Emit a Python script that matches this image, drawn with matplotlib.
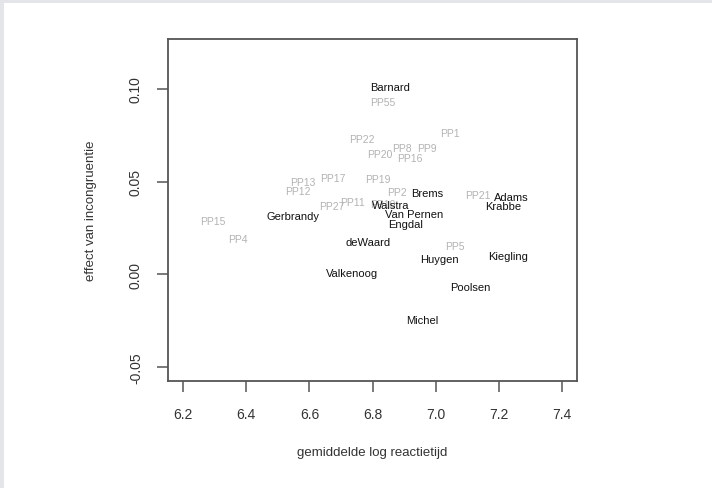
import matplotlib
matplotlib.use("Agg")
import matplotlib.pyplot as plt
from matplotlib.patches import Rectangle

plt.rcParams["font.family"] = ["Liberation Sans", "DejaVu Sans"]

# named participants (black) and anonymous PP codes (grey)
names = ["Barnard", "Brems", "Adams", "Krabbe", "Walstra", "Van Pernen",
         "Engdal", "deWaard", "Gerbrandy", "Valkenoog", "Huygen",
         "Kiegling", "Poolsen", "Michel"]
names_rt = [6.855, 6.972, 7.238, 7.214, 6.858, 6.930,
            6.903, 6.785, 6.548, 6.735, 7.013,
            7.228, 7.108, 6.956]
names_eff = [0.101, 0.044, 0.0415, 0.037, 0.0375, 0.0325,
             0.027, 0.0174, 0.0315, 0.0005, 0.008,
             0.0098, -0.007, -0.0245]

pp = ["PP55", "PP22", "PP1", "PP20", "PP8", "PP9", "PP16", "PP17", "PP19",
      "PP13", "PP12", "PP2", "PP27", "PP11", "PP10", "PP15", "PP4", "PP5",
      "PP21"]
pp_rt = [6.833, 6.766, 7.045, 6.823, 6.893, 6.972, 6.918, 6.675, 6.817,
         6.580, 6.564, 6.877, 6.672, 6.735, 6.833, 6.295, 6.374, 7.061,
         7.133]
pp_eff = [0.093, 0.0728, 0.076, 0.0647, 0.068, 0.068, 0.0625, 0.052, 0.0516,
          0.050, 0.045, 0.0446, 0.037, 0.039, 0.038, 0.029, 0.019, 0.0152,
          0.043]

xticks = [6.2, 6.4, 6.6, 6.8, 7.0, 7.2, 7.4]
yticks = [-0.05, 0.00, 0.05, 0.10]

fig = plt.figure(figsize=(7.12, 4.89), dpi=100, facecolor="#e4e5e8")
fig.add_artist(Rectangle((4 / 712, 0), 1, 1 - 4 / 489, transform=fig.transFigure,
                         facecolor="white", edgecolor="none", zorder=-1))
ax = fig.add_axes([168 / 712, 107 / 489, 409 / 712, 342 / 489])
ax.set_facecolor("white")

for lab, x, y in zip(pp, pp_rt, pp_eff):
    ax.text(x, y, lab, color="#b3b3b3", fontsize=7.5, ha="center", va="center")
for lab, x, y in zip(names, names_rt, names_eff):
    ax.text(x, y, lab, color="#111111", fontsize=8, ha="center", va="center")

ax.set_xlim(6.152, 7.447)
ax.set_ylim(-0.0576, 0.127)
ax.set_xticks(xticks)
ax.set_xticklabels([f"{v:.1f}" for v in xticks])
ax.set_yticks(yticks)
ax.set_yticklabels([f"{v:.2f}" for v in yticks], rotation=90, va="center")
for s in ax.spines.values():
    s.set_color("#555555")
    s.set_linewidth(1.3)
ax.tick_params(length=8, width=1.1, color="#555555", labelsize=10,
               labelcolor="#333333")
ax.tick_params(axis="x", pad=11)
ax.tick_params(axis="y", pad=10)
ax.set_xlabel("gemiddelde log reactietijd", fontsize=9.5, color="#333333",
              labelpad=18)
ax.set_ylabel("effect van incongruentie", fontsize=9.5, color="#333333",
              labelpad=23)

fig.savefig("out.png", dpi=100, facecolor=fig.get_facecolor())
